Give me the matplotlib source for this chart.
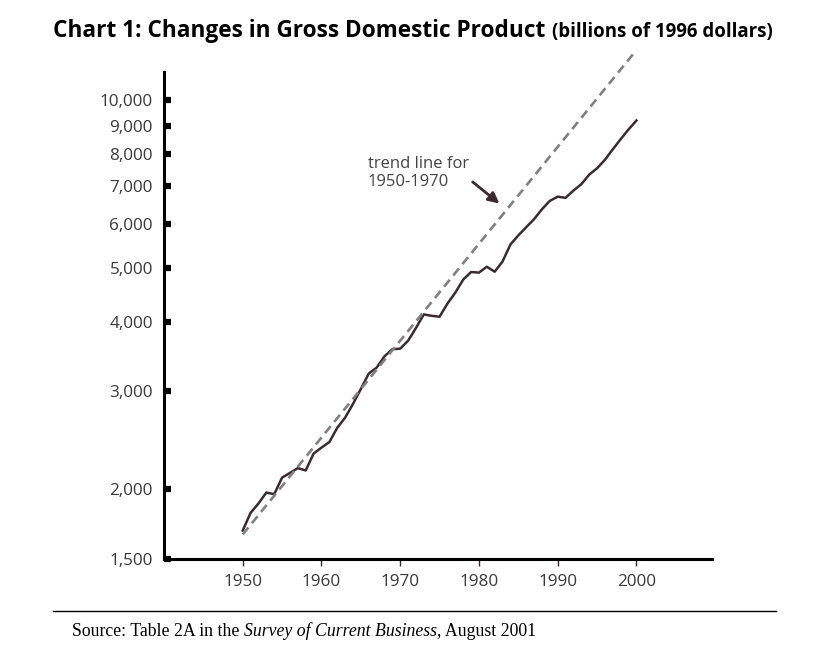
import numpy as np
import matplotlib
matplotlib.use("Agg")
import matplotlib.pyplot as plt
from matplotlib.ticker import FixedLocator, NullLocator

years = list(range(1950, 2001))
gdp = [1687, 1815, 1887, 1974, 1961, 2100, 2141, 2184, 2163, 2319,
       2377, 2432, 2579, 2690, 2847, 3029, 3228, 3308, 3466, 3571,
       3578, 3698, 3898, 4123, 4099, 4084, 4312, 4512, 4761, 4912,
       4901, 5021, 4919, 5132, 5505, 5717, 5912, 6113, 6368, 6592,
       6708, 6676, 6880, 7063, 7348, 7544, 7813, 8160, 8509, 8859,
       9191]

# trend line for 1950-1970, extended to 2000
trend_years = [1950, 2000]
trend_vals = [1660, 12300]

y_ticks = [1500, 2000, 3000, 4000, 5000, 6000, 7000, 8000, 9000, 10000]
y_labels = ["1,500", "2,000", "3,000", "4,000", "5,000", "6,000",
            "7,000", "8,000", "9,000", "10,000"]
x_ticks = [1950, 1960, 1970, 1980, 1990, 2000]

plt.rcParams['font.family'] = ['Open Sans', 'DejaVu Sans']

fig = plt.figure(figsize=(8.37, 6.49), dpi=100)
ax = fig.add_axes([0.1959, 0.1387, 0.8507 - 0.1959, 0.889 - 0.1387])

ax.plot(years, gdp, color='#3b2b30', lw=1.8)
ax.plot(trend_years, trend_vals, color='#808080', lw=1.9, ls=(0, (3.4, 2.1)),
        clip_on=False)

ax.set_yscale('log')
ax.set_ylim(1500, 11230)
ax.set_xlim(1940, 2009.6)
ax.yaxis.set_major_locator(FixedLocator(y_ticks))
ax.yaxis.set_minor_locator(NullLocator())
ax.set_yticklabels(y_labels)
ax.set_xticks(x_ticks)
ax.set_xticklabels([str(x) for x in x_ticks])

for s in ['top', 'right']:
    ax.spines[s].set_visible(False)
for s in ['left', 'bottom']:
    ax.spines[s].set_linewidth(2.2)
    ax.spines[s].set_color('black')

ax.tick_params(axis='y', direction='in', length=5, width=4.5, color='black',
               labelsize=12.3, labelcolor='#3a3a3a', pad=8)
ax.tick_params(axis='x', direction='out', length=5, width=1, color='#3b2b30',
               labelsize=12.3, labelcolor='#3a3a3a', pad=6)

ax.text(1965.9, 7400, "trend line for\n1950-1970", fontsize=12,
        color='#444444', linespacing=1.2, va='center')
ax.annotate("", xy=(1982.6, 6520), xytext=(1979.2, 7130),
            arrowprops=dict(arrowstyle='-|>', color='#3b2b30', lw=2,
                            mutation_scale=16, shrinkA=0, shrinkB=0))

# title, subtitle placed right after the main part
renderer = fig.canvas.get_renderer()
title = fig.text(53 / 837, 1 - 37 / 649,
                 "Chart 1: Changes in Gross Domestic Product",
                 fontsize=16.3, fontweight='bold', family='Open Sans',
                 va='baseline')
bb = title.get_window_extent(renderer)
fig.text((bb.x1 + 7) / 837, 1 - 37 / 649, "(billions of 1996 dollars)",
         fontsize=13.4, fontweight='bold', family='Open Sans', va='baseline')

fig.add_artist(plt.Line2D([53 / 837, 776 / 837], [1 - 611 / 649, 1 - 611 / 649],
                          color='black', lw=1, transform=fig.transFigure))

# source line, italic journal name
src_y = 1 - 636 / 649
parts = [("Source: Table 2A in the ", 'normal'),
         ("Survey of Current Business", 'italic'),
         (", August 2001", 'normal')]
x0 = 72
for txt, st in parts:
    t = fig.text(x0 / 837, src_y, txt, fontsize=12.8, family='Liberation Serif',
                 style=st, va='baseline')
    x0 = t.get_window_extent(renderer).x1

fig.savefig("out.png", dpi=100)
